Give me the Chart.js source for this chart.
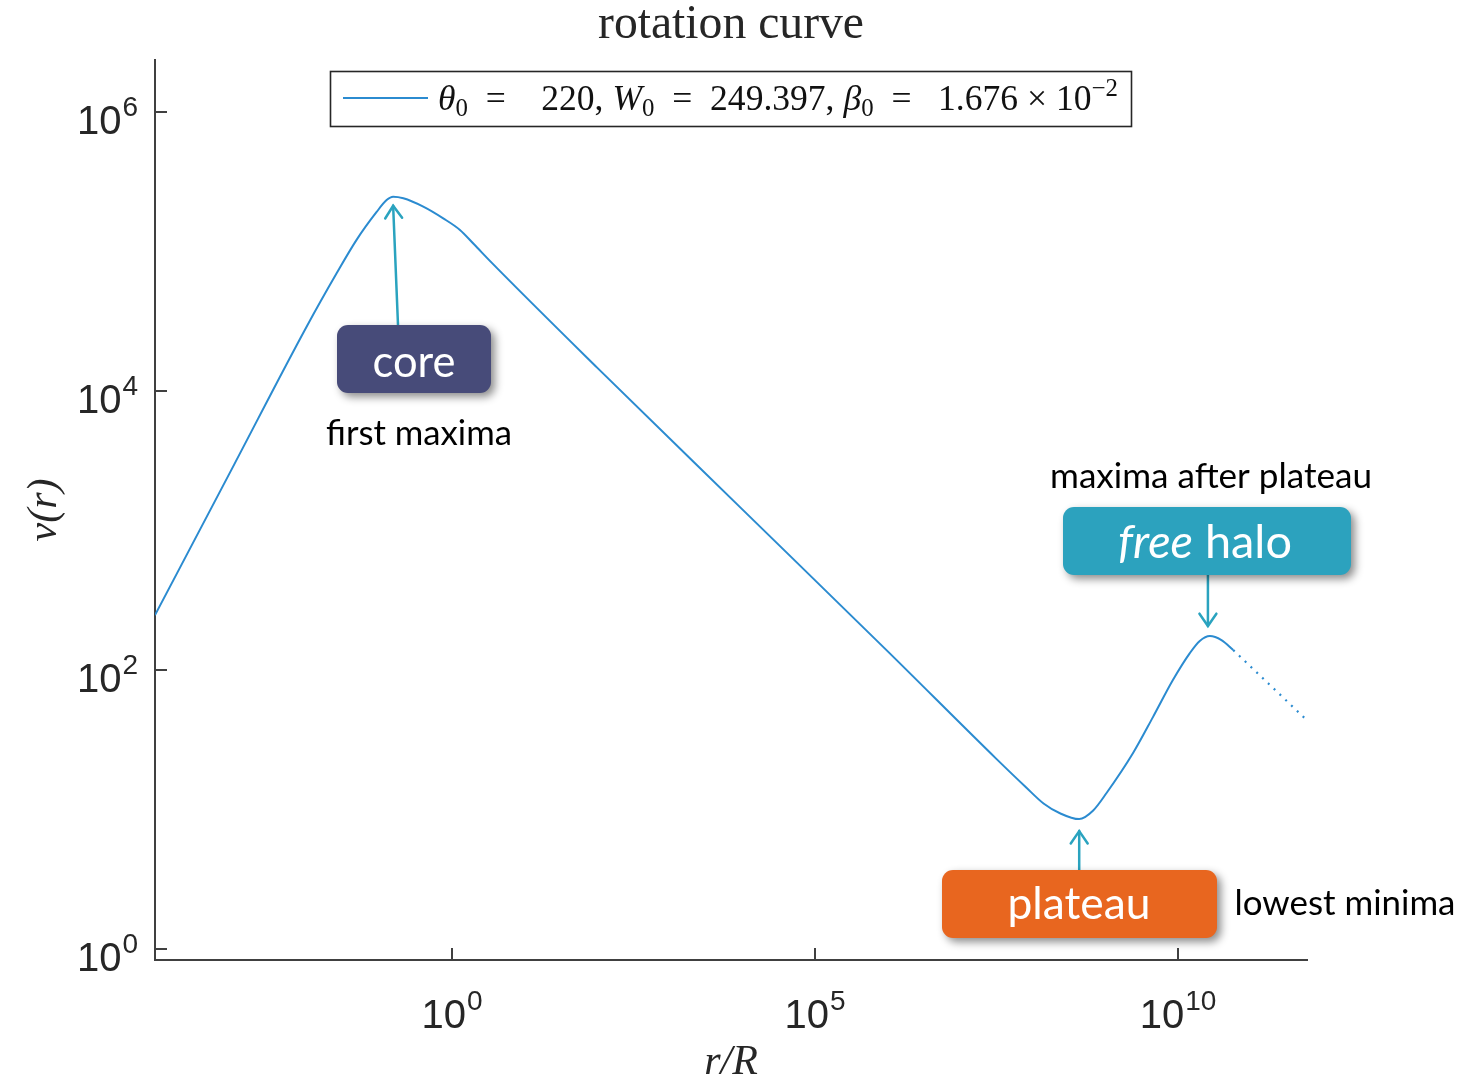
<!DOCTYPE html>
<html><head><meta charset="utf-8">
<script src="https://cdn.jsdelivr.net/npm/chart.js@4.4.1/dist/chart.umd.min.js"></script>
<style>html,body{margin:0;padding:0;background:#fff;} #wrap{width:1461px;height:1084px;position:relative;}</style>
</head><body><div id="wrap"><canvas id="c" width="1461" height="1084"></canvas></div>
<script>
// ---- data ----
const radius = [8.13e-5, 1e-3, 1e-2, 0.0258, 0.0486, 0.0918, 0.126, 0.155, 0.214, 0.403, 0.759, 1.29, 2.0, 3.55, 100, 1e4, 1e6, 3.16e7, 7.94e7, 1.41e8, 2.37e8, 4.37e8, 6.81e8, 1.04e9, 2.40e9, 4.53e9, 8.53e9, 1.46e10, 2.0e10, 2.76e10, 3.98e10, 5.78e10];
const velocity = [245.5, 2944, 28770, 69180, 120200, 190500, 231700, 244900, 238800, 208000, 171400, 141600, 112200, 82220, 14590, 1406, 135.5, 22.9, 14.45, 10.96, 9.33, 8.47, 9.77, 13.03, 25.1, 45.6, 84.1, 131.2, 160.3, 173.8, 162.6, 138];
const tailRadius = [5.78e10, 5.62e11];
const tailVelocity = [138, 44.7];
const xTicks = [1, 1e5, 1e10];
const yTicks = [1, 1e2, 1e4, 1e6];
const xRange = [8.13e-5, 6.0e11];
const yRange = [0.828, 2.34e6];
const titleText = 'rotation curve';
const legendLabel = 'θ₀ =  220, W₀ = 249.397, β₀ = 1.676 × 10⁻²';
const xTitle = 'r/R';
const yTitle = 'v(r)';
const coreIndex = 7, plateauIndex = 21, haloIndex = 29;
const notes = {core: 'core', coreSub: 'first maxima', halo: ['free', ' halo'], haloSub: 'maxima after plateau', plateau: 'plateau', plateauSub: 'lowest minima'};

function expOf(v){ return String(Math.round(Math.log10(v))); }

const LINE = '#2b8bd0', AXIS = '#404040', TXT = '#262626', ARROW = '#2aa3bf';
const SANS = 'Lato, "Open Sans", sans-serif';
const SERIF = '"Liberation Serif", "DejaVu Serif", serif';
const TICKF = '"Liberation Sans", Arial, sans-serif';

function fitSize(ctx, text, style, family, w){ ctx.font = style + ' 100px ' + family; return 100 * w / ctx.measureText(text).width; }
function drawRuns(ctx, runs, x, base, family, targetW, color){
  let tot = 0;
  runs.forEach(r => { ctx.font = (r.i?'italic ':'') + (100*(r.s||1)) + 'px ' + family; r.w = ctx.measureText(r.t).width; tot += r.w; });
  const k = targetW / tot;
  ctx.fillStyle = color; ctx.textBaseline = 'alphabetic'; ctx.textAlign = 'left';
  let cx = x;
  runs.forEach(r => { const sz = 100*k; ctx.font = (r.i?'italic ':'') + (sz*(r.s||1)) + 'px ' + family; ctx.fillText(r.t, cx, base + (r.dy||0)*sz); cx += r.w*k; });
}
function roundBox(ctx, x, y, w, h, r, fill){
  ctx.save();
  ctx.shadowColor = 'rgba(0,0,0,0.45)'; ctx.shadowBlur = 8; ctx.shadowOffsetX = 4; ctx.shadowOffsetY = 4;
  ctx.fillStyle = fill; ctx.beginPath(); ctx.roundRect(x, y, w, h, r); ctx.fill();
  ctx.restore();
}
function arrow(ctx, x1, y1, x2, y2){
  ctx.save(); ctx.strokeStyle = ARROW; ctx.lineWidth = 2.5; ctx.lineCap = 'round';
  ctx.beginPath(); ctx.moveTo(x1,y1); ctx.lineTo(x2,y2); ctx.stroke();
  const a = Math.atan2(y2-y1, x2-x1), L = 15, s = 0.6;
  ctx.beginPath();
  ctx.moveTo(x2 - L*Math.cos(a-s), y2 - L*Math.sin(a-s)); ctx.lineTo(x2, y2);
  ctx.lineTo(x2 - L*Math.cos(a+s), y2 - L*Math.sin(a+s)); ctx.stroke();
  ctx.restore();
}
function centerText(ctx, text, cx, base, w, style, family, color){
  const sz = fitSize(ctx, text, style, family, w);
  ctx.font = style + ' ' + sz + 'px ' + family; ctx.fillStyle = color; ctx.textAlign = 'center'; ctx.textBaseline = 'alphabetic';
  ctx.fillText(text, cx, base);
}
// power-of-ten label: "10" plus raised exponent
function powLabel(ctx, v, x, base, align){
  const e = expOf(v);
  ctx.font = '40px ' + TICKF; const wb = ctx.measureText('10').width;
  ctx.font = '28px ' + TICKF; const we = ctx.measureText(e).width;
  const tot = wb + 1 + we;
  const left = align === 'right' ? x - tot : x - tot/2;
  ctx.fillStyle = TXT; ctx.textAlign = 'left'; ctx.textBaseline = 'alphabetic';
  ctx.font = '40px ' + TICKF; ctx.fillText('10', left, base);
  ctx.font = '28px ' + TICKF; ctx.fillText(e, left + wb + 1, base - 18);
}

const decor = {
  id: 'decor',
  afterDraw(chart){
    const ctx = chart.ctx, xs = chart.scales.x, ys = chart.scales.y, ca = chart.chartArea;
    ctx.save();
    // inward tick marks and tick labels, at the ticks the library built
    ctx.strokeStyle = AXIS; ctx.lineWidth = 2;
    ys.ticks.forEach(t => { const p = Math.round(ys.getPixelForValue(t.value)); ctx.beginPath(); ctx.moveTo(ca.left, p); ctx.lineTo(ca.left+12, p); ctx.stroke(); powLabel(ctx, t.value, 138, p + 22, 'right'); });
    xs.ticks.forEach(t => { const p = Math.round(xs.getPixelForValue(t.value)); ctx.beginPath(); ctx.moveTo(p, ca.bottom); ctx.lineTo(p, ca.bottom-12); ctx.stroke(); powLabel(ctx, t.value, p, 1028, 'center'); });
    // title
    centerText(ctx, titleText, 731, 38, 266, 'normal', SERIF, TXT);
    // legend box
    ctx.strokeStyle = '#262626'; ctx.lineWidth = 1.6; ctx.strokeRect(330.5, 71.5, 801, 55);
    ctx.strokeStyle = LINE; ctx.lineWidth = 2; ctx.beginPath(); ctx.moveTo(343, 98); ctx.lineTo(428, 98); ctx.stroke();
    drawRuns(ctx, [
      {t:'θ', i:1}, {t:'0', s:0.7, dy:0.17}, {t:'  =    220, '}, {t:'W', i:1}, {t:'0', s:0.7, dy:0.17},
      {t:'  =  249.397, '}, {t:'β', i:1}, {t:'0', s:0.7, dy:0.17}, {t:'  =   1.676 × 10'}, {t:'−2', s:0.7, dy:-0.38}
    ], 438, 110, SERIF, 680, '#111');
    // annotations
    const pk = {x: xs.getPixelForValue(radius[coreIndex]), y: ys.getPixelForValue(velocity[coreIndex])};
    const hl = {x: xs.getPixelForValue(radius[haloIndex]), y: ys.getPixelForValue(velocity[haloIndex])};
    const mn = {x: xs.getPixelForValue(radius[plateauIndex]), y: ys.getPixelForValue(velocity[plateauIndex])};
    arrow(ctx, 398, 325, pk.x, pk.y + 9);
    roundBox(ctx, 337, 325, 154, 68, 11, '#474b79');
    centerText(ctx, notes.core, 414, 377, 83, 'normal', SANS, '#fff');
    centerText(ctx, notes.coreSub, 419, 445, 186, 'normal', SANS, '#000');

    arrow(ctx, hl.x - 2, 575, hl.x - 2, hl.y - 10);
    roundBox(ctx, 1063, 507, 288, 68, 11, '#2ca2be');
    drawRuns(ctx, [{t:notes.halo[0], i:1}, {t:notes.halo[1]}], 1118, 558, SANS, 174, '#fff');
    centerText(ctx, notes.haloSub, 1211, 488, 322, 'normal', SANS, '#000');

    arrow(ctx, mn.x, 870, mn.x, mn.y + 12);
    roundBox(ctx, 942, 870, 275, 68, 11, '#e8661f');
    centerText(ctx, notes.plateau, 1079, 919, 143, 'normal', SANS, '#fff');
    centerText(ctx, notes.plateauSub, 1345, 915, 221, 'normal', SANS, '#000');
    ctx.restore();
  }
};

new Chart(document.getElementById('c'), {
  type: 'line',
  data: {
    datasets: [
      { label: legendLabel, data: radius.map((r,i)=>({x:r, y:velocity[i]})), borderColor: LINE, borderWidth: 2, pointRadius: 0, cubicInterpolationMode: 'monotone', fill: false },
      { label: 'extrapolation', data: tailRadius.map((r,i)=>({x:r, y:tailVelocity[i]})), borderColor: LINE, borderWidth: 2.2, borderDash: [2,6], pointRadius: 0, fill: false }
    ]
  },
  options: {
    responsive: false, devicePixelRatio: 1, animation: false,
    layout: { padding: { top: 60, right: 154, left: 0, bottom: 0 } },
    plugins: { legend: { display: false }, title: { display: false }, tooltip: { enabled: false } },
    scales: {
      x: {
        type: 'logarithmic', min: xRange[0], max: xRange[1],
        afterBuildTicks: s => { s.ticks = xTicks.map(v => ({value: v})); },
        afterFit: s => { s.height = 124; },
        grid: { display: false, drawTicks: false, tickLength: 0 },
        border: { display: true, color: AXIS, width: 2 },
        ticks: { display: false, autoSkip: false, maxRotation: 0 },
        title: { display: true, text: xTitle, color: TXT, padding: { top: 0, bottom: 0 }, font: { family: SERIF, style: 'italic', size: 42, lineHeight: 1.0 } }
      },
      y: {
        type: 'logarithmic', min: yRange[0], max: yRange[1],
        afterBuildTicks: s => { s.ticks = yTicks.map(v => ({value: v})); },
        afterFit: s => { s.width = 155; },
        grid: { display: false, drawTicks: false, tickLength: 0 },
        border: { display: true, color: AXIS, width: 2 },
        ticks: { display: false, autoSkip: false },
        title: { display: true, text: yTitle, color: TXT, padding: { top: 20, bottom: 0 }, font: { family: SERIF, style: 'italic', size: 42 } }
      }
    }
  },
  plugins: [decor]
});
</script></body></html>
